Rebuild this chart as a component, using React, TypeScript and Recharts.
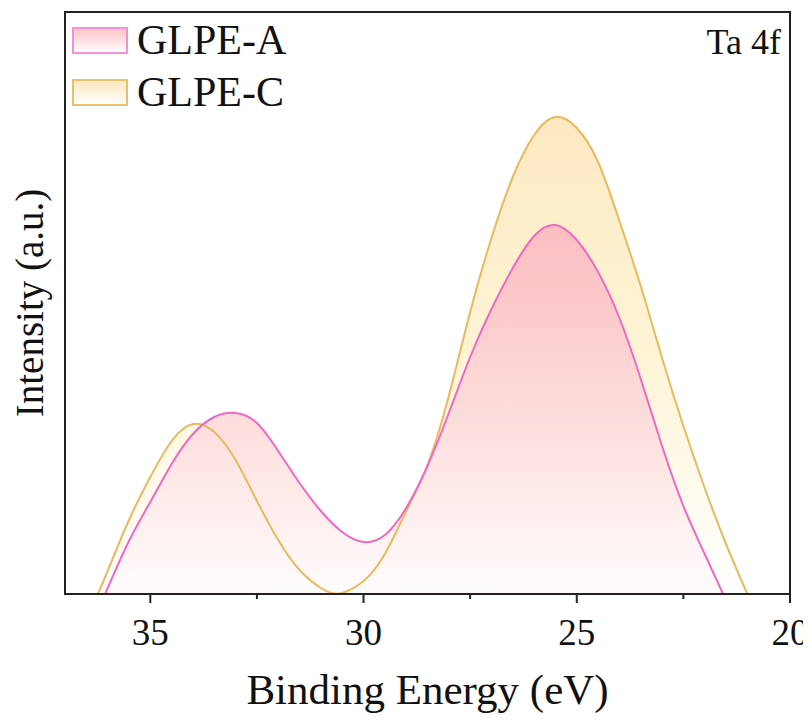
import React from "react";
import { ComposedChart, Area, Line, XAxis, YAxis } from "recharts";

// Binding energy (eV) and intensity (a.u.)
const energyA = [36.06, 35.5, 35.0, 34.5, 34.0, 33.5, 33.0, 32.5, 32.0, 31.5, 31.0, 30.5, 30.0, 29.5, 29.0, 28.5, 28.0, 27.5, 27.0, 26.5, 26.0, 25.5, 25.0, 24.5, 24.0, 23.5, 23.0, 22.5, 22.0, 21.57];
const intensityA = [0, 53, 92, 130, 160, 177, 181, 171, 143, 111, 83, 62, 52, 59, 86, 128, 181, 237, 285, 326, 358, 369, 354, 322, 276, 215, 148, 88, 40, 0];

const energyC = [36.23, 36.0, 35.5, 35.0, 34.5, 34.0, 33.5, 33.0, 32.5, 32.0, 31.5, 31.0, 30.75, 30.5, 30.0, 29.5, 29.0, 28.5, 28.0, 27.5, 27.0, 26.5, 26.0, 25.5, 25.0, 24.5, 24.0, 23.5, 23.0, 22.5, 22.0, 21.5, 21.0];
const intensityC = [0, 23, 74, 117, 153, 170, 162, 134, 93, 54, 24, 6, 1, 1, 13, 40, 83, 129, 198, 282, 356, 417, 459, 477, 466, 432, 373, 308, 236, 168, 106, 50, 0];

const xTicks = [35, 32.5, 30, 27.5, 25, 22.5, 20];
const seriesNames = ["GLPE-A", "GLPE-C"];
const panelLabel = "Ta 4f";
const xTitle = "Binding Energy (eV)";
const yTitle = "Intensity (a.u.)";

const dataA = energyA.map((e, i) => ({ energy: e, value: intensityA[i] }));
const dataC = energyC.map((e, i) => ({ energy: e, value: intensityC[i] }));

const FONT = '"Liberation Serif", "Times New Roman", serif';
const FRAME = "#222222";
const PINK = "#F069C0";
const GOLD = "#E8B95E";

const XTick = (props: any) => {
  const { x, y, payload } = props;
  const v = payload.value;
  const major = Number.isInteger(v);
  return (
    <g>
      <line x1={x} x2={x} y1={y} y2={y + (major ? 9 : 5)} stroke={FRAME} strokeWidth={2} />
      {major && (
        <text x={x} y={y + 51} textAnchor="middle" fontSize={37} fontFamily={FONT} fill="#111">
          {v}
        </text>
      )}
    </g>
  );
};

export default function App() {
  const W = 803;
  const H = 716;
  const plot = { left: 57, top: 4, width: 725, height: 582 };
  return (
    <div style={{ position: "relative", width: W, height: H }}>
      <ComposedChart width={W} height={H} margin={{ top: 4, right: 21, bottom: 0, left: 0 }}>
        <defs>
          <linearGradient id="pinkFill" x1="0" y1="0" x2="0" y2="1">
            <stop offset="0" stopColor="#FBBEC2" />
            <stop offset="0.2" stopColor="#FCC8C9" />
            <stop offset="0.6" stopColor="#FDE2E1" />
            <stop offset="1" stopColor="#FFFCFC" />
          </linearGradient>
          <linearGradient id="goldFill" x1="0" y1="0" x2="0" y2="1">
            <stop offset="0" stopColor="#FCE9C2" />
            <stop offset="0.5" stopColor="#FEF4D6" />
            <stop offset="1" stopColor="#FFFFFF" />
          </linearGradient>
        </defs>
        <XAxis
          xAxisId="b"
          dataKey="energy"
          type="number"
          domain={[20, 37]}
          reversed
          allowDataOverflow
          ticks={xTicks}
          interval={0}
          tickLine={false}
          tickSize={0}
          tickMargin={0}
          height={130}
          axisLine={{ stroke: FRAME, strokeWidth: 2 }}
          tick={<XTick />}
          label={(p: any) => {
            const vb = p.viewBox || { x: 57, y: 586, width: 725 };
            return (
              <text x={vb.x + vb.width / 2} y={vb.y + 110} textAnchor="middle" fontSize={43} fontFamily={FONT} fill="#111">
                {xTitle}
              </text>
            );
          }}
        />
        <YAxis
          yAxisId="l"
          type="number"
          domain={[0, 582]}
          allowDataOverflow
          width={57}
          tick={false}
          tickLine={false}
          axisLine={{ stroke: FRAME, strokeWidth: 2 }}
          label={(p: any) => {
            const vb = p.viewBox || { x: 0, y: 4, width: 57, height: 582 };
            const cy = vb.y + vb.height / 2;
            return (
              <text x={35} y={cy} transform={`rotate(-90, 35, ${cy})`} textAnchor="middle" fontSize={39} fontFamily={FONT} fill="#111">
                {yTitle}
              </text>
            );
          }}
        />
        <Area
          xAxisId="b"
          yAxisId="l"
          data={dataC}
          dataKey="value"
          type="natural"
          stroke="none"
          fill="url(#goldFill)"
          fillOpacity={1}
          isAnimationActive={false}
          name={seriesNames[1]}
        />
        <Area
          xAxisId="b"
          yAxisId="l"
          data={dataA}
          dataKey="value"
          type="natural"
          stroke="none"
          fill="url(#pinkFill)"
          fillOpacity={1}
          isAnimationActive={false}
          name={seriesNames[0]}
        />
        <Line
          xAxisId="b"
          yAxisId="l"
          data={dataC}
          dataKey="value"
          type="natural"
          stroke={GOLD}
          strokeWidth={2}
          dot={false}
          isAnimationActive={false}
          name={seriesNames[1]}
        />
        <Line
          xAxisId="b"
          yAxisId="l"
          data={dataA}
          dataKey="value"
          type="natural"
          stroke={PINK}
          strokeWidth={2}
          dot={false}
          isAnimationActive={false}
          name={seriesNames[0]}
        />
      </ComposedChart>
      <svg
        width={W}
        height={H}
        style={{ position: "absolute", left: 0, top: 0, pointerEvents: "none" }}
      >
        <defs>
          <linearGradient id="legPink" x1="0" y1="0" x2="0" y2="1">
            <stop offset="0" stopColor="#FCC2C6" />
            <stop offset="1" stopColor="#FFFFFF" />
          </linearGradient>
          <linearGradient id="legGold" x1="0" y1="0" x2="0" y2="1">
            <stop offset="0" stopColor="#FCE6BC" />
            <stop offset="1" stopColor="#FFFFFF" />
          </linearGradient>
        </defs>
        <rect x={plot.left} y={plot.top} width={plot.width} height={plot.height} fill="none" stroke={FRAME} strokeWidth={2} />
        <rect x={65} y={20} width={54} height={25} fill="url(#legPink)" stroke="#F590D2" strokeWidth={2} />
        <text x={129} y={46} fontSize={42} fontFamily={FONT} fill="#111">{seriesNames[0]}</text>
        <rect x={65} y={72} width={54} height={25} fill="url(#legGold)" stroke="#EBC06C" strokeWidth={2} />
        <text x={129} y={98} fontSize={42} fontFamily={FONT} fill="#111">{seriesNames[1]}</text>
        <text x={773} y={46} textAnchor="end" fontSize={36} fontFamily={FONT} fill="#111">{panelLabel}</text>
      </svg>
    </div>
  );
}
